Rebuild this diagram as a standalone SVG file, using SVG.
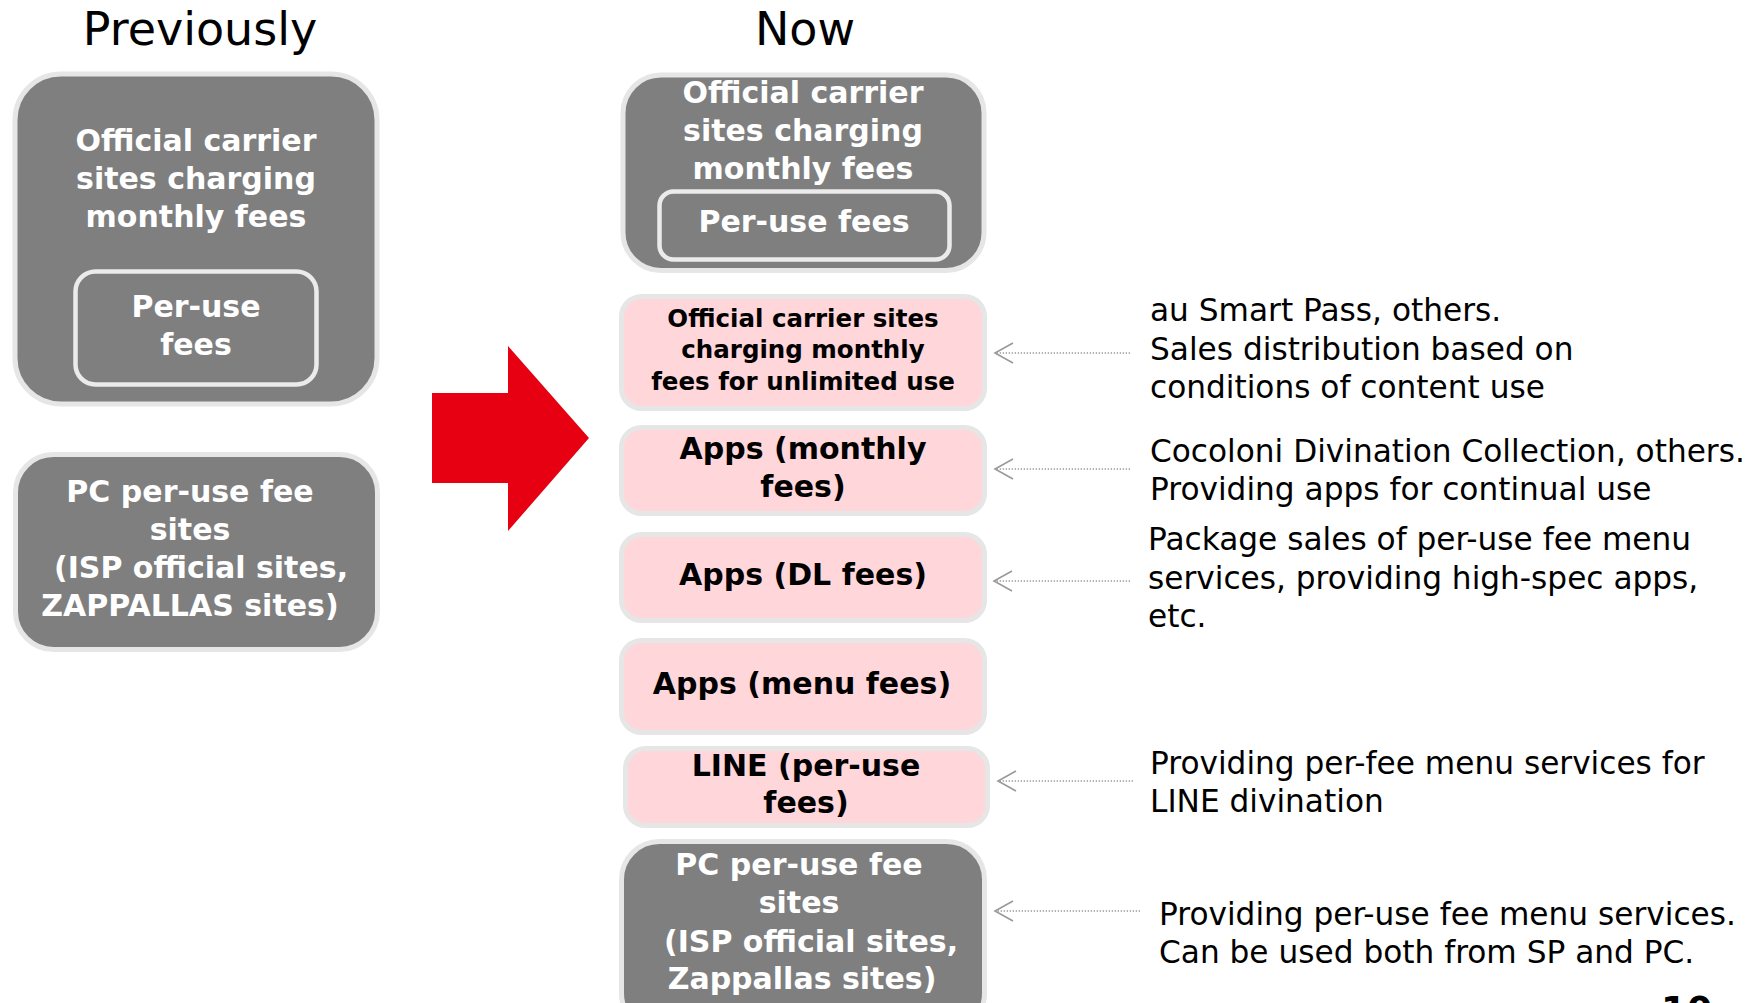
<svg xmlns="http://www.w3.org/2000/svg" width="1756" height="1003" viewBox="0 0 1756 1003">
<style>
.dark{fill:#7f7f7f;stroke:#e6e6e6;stroke-width:5}
.pink{fill:#ffd6d9;stroke:#e6e6e6;stroke-width:5}
.inner{fill:none;stroke:#ebebeb;stroke-width:4.5}
.t{font-family:"DejaVu Sans",Verdana,sans-serif;font-weight:bold;font-size:30px;text-anchor:middle}
.w{fill:#ffffff}
.k{fill:#000000}
.s{font-size:24.5px}
.title{font-family:"DejaVu Sans",Verdana,sans-serif;font-size:46px;fill:#000;text-anchor:middle}
.desc{font-family:"DejaVu Sans",Verdana,sans-serif;font-size:31.2px;fill:#000}
.conn{stroke:#999;stroke-width:1.3;stroke-dasharray:1.3 1.7;fill:none}
</style>
<defs>
<marker id="chev" markerUnits="userSpaceOnUse" markerWidth="22" markerHeight="24" viewBox="0 0 22 24" refX="20" refY="12" orient="auto">
<path d="M2,2 L20,12 L2,22" fill="none" stroke="#999" stroke-width="1.6"/>
</marker>
</defs>
<rect width="1756" height="1003" fill="#ffffff"/>

<g id="title-previously"><text class="title" x="200" y="45">Previously</text></g>
<g id="title-now"><text class="title" x="805" y="45">Now</text></g>

<g id="prev-carrier">
<rect class="dark" x="15" y="74" width="362" height="330" rx="46"/>
<text class="t w" x="196" y="151">Official carrier</text>
<text class="t w" x="196" y="189">sites charging</text>
<text class="t w" x="196" y="227">monthly fees</text>
</g>
<g id="prev-peruse">
<rect class="inner" x="75.5" y="271.5" width="241" height="113" rx="20"/>
<text class="t w" x="196" y="317">Per-use</text>
<text class="t w" x="196" y="355">fees</text>
</g>
<g id="prev-pc">
<rect class="dark" x="15.5" y="454.5" width="362" height="195" rx="38"/>
<text class="t w" x="190" y="502">PC per-use fee</text>
<text class="t w" x="190" y="540">sites</text>
<text class="t w" x="201" y="578">(ISP official sites,</text>
<text class="t w" x="190" y="616">ZAPPALLAS sites)</text>
</g>

<g id="transition-arrow">
<polygon points="432,393 508,393 508,346 589,438 508,531 508,483 432,483" fill="#e60012"/>
</g>

<g id="now-carrier">
<rect class="dark" x="623" y="75" width="361" height="195.5" rx="38"/>
<text class="t w" x="803" y="103">Official carrier</text>
<text class="t w" x="803" y="141">sites charging</text>
<text class="t w" x="803" y="179">monthly fees</text>
</g>
<g id="now-peruse">
<rect class="inner" x="659.5" y="191.5" width="290" height="68" rx="14"/>
<text class="t w" x="804" y="232">Per-use fees</text>
</g>
<g id="now-unlimited">
<rect class="pink" x="621.5" y="296.5" width="363" height="112" rx="20"/>
<text class="t k s" x="803" y="327">Official carrier sites</text>
<text class="t k s" x="803" y="358">charging monthly</text>
<text class="t k s" x="803" y="390">fees for unlimited use</text>
</g>
<g id="now-apps-monthly">
<rect class="pink" x="621.5" y="427.5" width="363" height="86" rx="20"/>
<text class="t k" x="803" y="459">Apps (monthly</text>
<text class="t k" x="803" y="497">fees)</text>
</g>
<g id="now-apps-dl">
<rect class="pink" x="621.5" y="534.5" width="363" height="86" rx="20"/>
<text class="t k" x="803" y="585">Apps (DL fees)</text>
</g>
<g id="now-apps-menu">
<rect class="pink" x="621.5" y="640.5" width="363" height="92" rx="20"/>
<text class="t k" x="802" y="694">Apps (menu fees)</text>
</g>
<g id="now-line">
<rect class="pink" x="625.5" y="748.5" width="362" height="77" rx="20"/>
<text class="t k" x="806" y="776">LINE (per-use</text>
<text class="t k" x="806" y="813">fees)</text>
</g>
<g id="now-pc">
<rect class="dark" x="621.5" y="841.5" width="363" height="190" rx="38"/>
<text class="t w" x="799" y="875">PC per-use fee</text>
<text class="t w" x="799" y="913">sites</text>
<text class="t w" x="811" y="952">(ISP official sites,</text>
<text class="t w" x="802" y="989">Zappallas sites)</text>
</g>

<g id="desc-unlimited">
<text class="desc" x="1150" y="321">au Smart Pass, others.</text>
<text class="desc" x="1150" y="360">Sales distribution based on</text>
<text class="desc" x="1150" y="398">conditions of content use</text>
</g>
<g id="desc-apps-monthly">
<text class="desc" x="1150" y="462">Cocoloni Divination Collection, others.</text>
<text class="desc" x="1150" y="500">Providing apps for continual use</text>
</g>
<g id="desc-apps-dl">
<text class="desc" x="1148" y="550">Package sales of per-use fee menu</text>
<text class="desc" x="1148" y="589">services, providing high-spec apps,</text>
<text class="desc" x="1148" y="627">etc.</text>
</g>
<g id="desc-line">
<text class="desc" x="1150" y="774">Providing per-fee menu services for</text>
<text class="desc" x="1150" y="812">LINE divination</text>
</g>
<g id="desc-pc">
<text class="desc" x="1159" y="925">Providing per-use fee menu services.</text>
<text class="desc" x="1159" y="963">Can be used both from SP and PC.</text>
</g>

<g id="connectors">
<line class="conn" x1="1130" y1="353" x2="995" y2="353" marker-end="url(#chev)"/>
<line class="conn" x1="1130" y1="469" x2="995" y2="469" marker-end="url(#chev)"/>
<line class="conn" x1="1130" y1="581" x2="994" y2="581" marker-end="url(#chev)"/>
<line class="conn" x1="1133" y1="781" x2="998" y2="781" marker-end="url(#chev)"/>
<line class="conn" x1="1140" y1="911" x2="995" y2="911" marker-end="url(#chev)"/>
</g>

<g id="page-number">
<text x="1661" y="1023" style="font-family:'DejaVu Sans',Verdana,sans-serif;font-weight:bold;font-size:37px;fill:#000">10</text>
</g>
</svg>
